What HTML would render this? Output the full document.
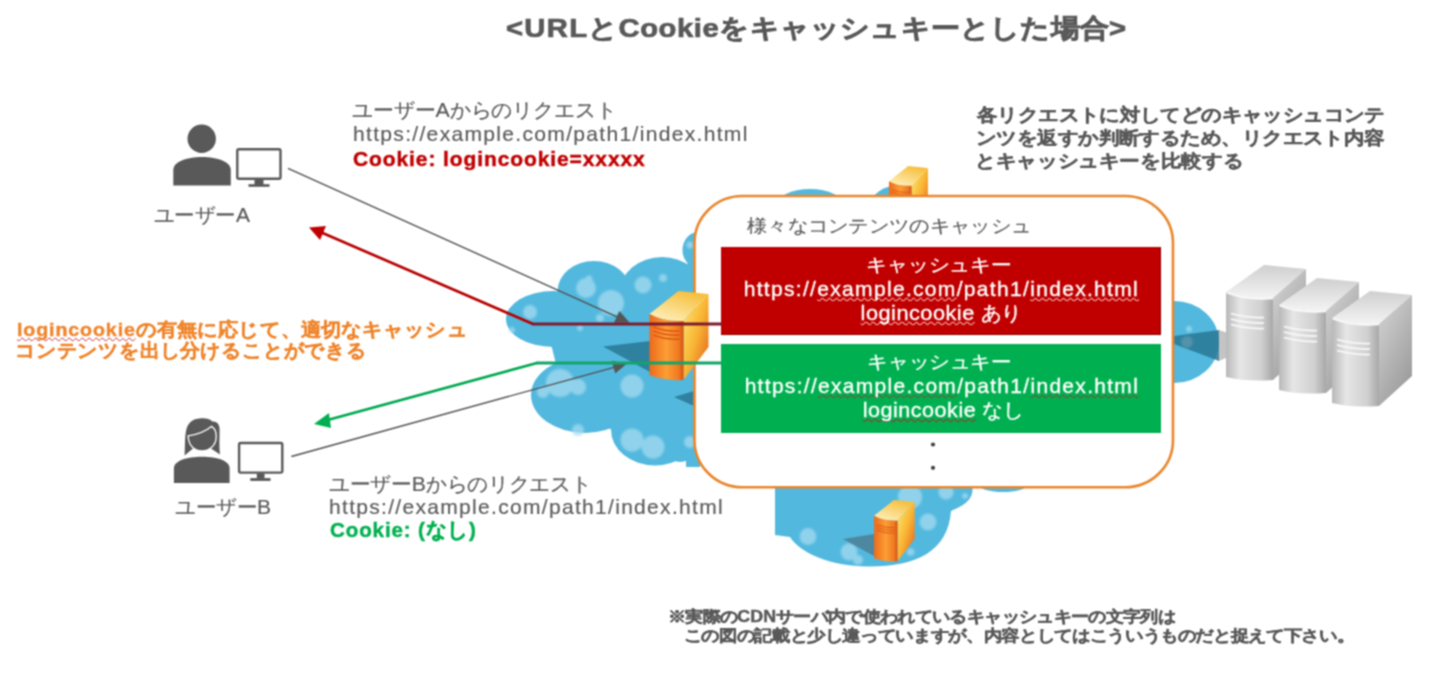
<!DOCTYPE html>
<html lang="ja">
<head>
<meta charset="utf-8">
<style>
html,body{margin:0;padding:0;background:#fff;}
body{width:1440px;height:675px;position:relative;overflow:hidden;font-family:"Liberation Sans",sans-serif;color:#595959;}
.t{position:absolute;white-space:nowrap;line-height:24px;}
svg{position:absolute;left:0;top:0;}
.sq{text-decoration:underline wavy #c8303c;text-decoration-thickness:1px;text-underline-offset:0.5px;text-decoration-skip-ink:none;}.sqr{text-decoration-color:#f5b4b4;}.sqg{text-decoration-color:#a03030;}
</style>
</head>
<body>
<svg width="0" height="0" style="position:absolute;left:0;top:0"><filter id="soft" x="0" y="0" width="100%" height="100%" color-interpolation-filters="sRGB"><feConvolveMatrix order="3" kernelMatrix="1 2 1 2 4 2 1 2 1" divisor="16" edgeMode="duplicate"/></filter></svg>
<div id="wrap" style="position:absolute;left:0;top:0;width:1440px;height:675px;background:#fff;filter:url(#soft);">
<svg width="1440" height="675" viewBox="0 0 1440 675">
<defs>
  <linearGradient id="fr" x1="0" y1="0" x2="1" y2="0">
    <stop offset="0" stop-color="#ee6a1c"/>
    <stop offset="0.5" stop-color="#fb9e34"/>
    <stop offset="0.85" stop-color="#f07a22"/>
    <stop offset="1" stop-color="#d9500f"/>
  </linearGradient>
  <linearGradient id="sd" x1="0" y1="0" x2="1" y2="1">
    <stop offset="0" stop-color="#ffec70"/>
    <stop offset="0.5" stop-color="#f8b434"/>
    <stop offset="1" stop-color="#e2581a"/>
  </linearGradient>
  <linearGradient id="tp" x1="0" y1="1" x2="0.6" y2="0">
    <stop offset="0" stop-color="#fff4c8"/>
    <stop offset="1" stop-color="#f6c040"/>
  </linearGradient>
  <g id="osrv">
    <path d="M0,23 L29,0 L59,3 L34,30 Q14,31 0,23 Z" fill="url(#tp)"/>
    <path d="M34,30 L59,3 L59,56 L34,89 Z" fill="url(#sd)"/>
    <path d="M0,23 Q14,31 34,30 L34,89 Q14,90 0,84 Z" fill="url(#fr)"/>
    <path d="M4,36 Q16,41 30,40 M4,40 Q16,45 30,44 M4,44 Q16,49 30,48" stroke="#d84a10" stroke-width="1.2" fill="none"/>
  </g>
  <linearGradient id="gf" x1="0" y1="0" x2="1" y2="0">
    <stop offset="0" stop-color="#b8b8b8"/>
    <stop offset="0.3" stop-color="#e6e6e6"/>
    <stop offset="0.75" stop-color="#d0d0d0"/>
    <stop offset="1" stop-color="#a8a8a8"/>
  </linearGradient>
  <linearGradient id="gs" x1="0" y1="0" x2="0.6" y2="1">
    <stop offset="0" stop-color="#d6d6d6"/>
    <stop offset="1" stop-color="#9c9c9c"/>
  </linearGradient>
  <linearGradient id="gt" x1="0" y1="1" x2="0" y2="0">
    <stop offset="0" stop-color="#f4f4f4"/>
    <stop offset="1" stop-color="#cfcfcf"/>
  </linearGradient>
  <g id="gsrv">
    <path d="M0,27 L38,0 L80,4 L47,33 Q20,35 0,27 Z" fill="url(#gt)"/>
    <path d="M47,33 L80,4 L80,85 L47,115 Z" fill="url(#gs)"/>
    <path d="M0,27 Q20,35 47,33 L47,115 Q20,117 0,112 Z" fill="url(#gf)"/>
    <path d="M0.5,27.5 Q20,35.5 47,33.5" stroke="#fbfbfb" stroke-width="1.6" fill="none"/>
    <path d="M5,48.5 Q21,53 38,52.5 M5,54 Q21,58.5 38,58 M5,59.5 Q21,64 38,63.5" stroke="#fafafa" stroke-width="1.7" fill="none"/>
  </g>
</defs>

<!-- cloud -->
<filter id="bl" x="-20%" y="-20%" width="140%" height="140%"><feGaussianBlur stdDeviation="0.9"/></filter>
<g fill="#52b8de">
  <ellipse cx="553" cy="319" rx="47" ry="28"/>
  <ellipse cx="594" cy="291" rx="36.4" ry="30"/>
  <ellipse cx="662" cy="292" rx="42" ry="35"/>
  <ellipse cx="697" cy="250" rx="14.5" ry="17.5"/>
  <ellipse cx="585" cy="395" rx="54" ry="38"/>
  <ellipse cx="655" cy="430" rx="44" ry="35.5"/>
  <ellipse cx="680" cy="440" rx="20" ry="22"/>
  <rect x="686" y="450" width="14" height="17"/>
  <polygon points="548,332 590,300 650,290 690,262 700,262 700,440 640,440 600,425 560,380"/>
  <ellipse cx="810" cy="206" rx="34" ry="17"/>
  <ellipse cx="901" cy="205" rx="30" ry="20"/>
  <path d="M775,480 L775,535 L790,537 C800,553 830,566 868,566.5 C915,567 948,552 951,511 C960,507 972,502 972.5,490 L972.5,480 Z"/>
  <ellipse cx="1003" cy="485" rx="24" ry="7"/>
  <ellipse cx="1174" cy="342" rx="45" ry="41"/>
</g>
<!-- bubbles -->
<g fill="#a8dcf1" opacity="0.72" filter="url(#bl)">
  <circle cx="586" cy="288" r="10"/>
  <circle cx="589" cy="279" r="3.5"/>
  <circle cx="611" cy="303" r="13"/>
  <circle cx="600" cy="318" r="4"/>
  <circle cx="643" cy="285" r="8.5"/>
  <circle cx="663" cy="278" r="4"/>
  <circle cx="530" cy="312" r="7"/>
  <circle cx="580" cy="328" r="3"/>
  <circle cx="512" cy="330" r="3"/>
  <circle cx="560" cy="383" r="14"/>
  <circle cx="578" cy="387" r="8"/>
  <circle cx="543" cy="392" r="6"/>
  <circle cx="632" cy="386" r="11.5"/>
  <circle cx="578" cy="430" r="6"/>
  <circle cx="632" cy="440" r="11.5"/>
  <circle cx="653" cy="447" r="11.5"/>
  <circle cx="690" cy="442" r="6"/>
  <circle cx="910" cy="497" r="12"/>
  <circle cx="946" cy="492" r="7.6"/>
  <circle cx="928" cy="522" r="8.4"/>
  <circle cx="808" cy="536.5" r="8.4"/>
  <circle cx="849" cy="552" r="8.4"/>
  <circle cx="858" cy="560" r="5"/>
  <circle cx="910.6" cy="552" r="3.8"/>
  <circle cx="1189" cy="329" r="3"/>
  <circle cx="690" cy="245" r="3.5"/>
  <circle cx="965" cy="496" r="3"/>
</g>
<!-- shadows -->
<g fill="#2a7896" opacity="0.85">
  <path d="M603,346.5 L650,341 L650,372 Z"/>
  <path d="M674,397 L694,391 L694,406 Z"/>
  <path d="M1174,336 L1219,330 L1219,361 L1174,344 Z"/>
</g>
<path d="M843,539 L874,534 L874,556 Z" fill="#4d7f95" opacity="0.85"/>
<circle cx="1187" cy="342" r="6" fill="#6a9fb3" opacity="0.6" filter="url(#bl)"/>
<path d="M1219,330 L1228,333 L1228,357 L1219,361 Z" fill="#c4c4c4"/>

<!-- orange servers -->
<use href="#osrv" transform="translate(889,166) scale(0.66)"/>

<!-- box -->
<rect x="694.5" y="196" width="478.5" height="291.3" rx="48" ry="47" fill="#fff" stroke="#e9862c" stroke-width="2.6"/>
<rect x="721" y="247" width="440" height="88" fill="#c00000"/>
<path d="M721,334.5 L1160.5,334.5 L1160.5,247" fill="none" stroke="#8c0000" stroke-width="1"/>
<rect x="721" y="344" width="440" height="89" fill="#00b050"/>

<use href="#osrv" transform="translate(649.5,291)"/>
<use href="#osrv" transform="translate(874,500) scale(0.69)"/>

<!-- gray servers -->
<use href="#gsrv" transform="translate(1226,265)"/>
<use href="#gsrv" transform="translate(1279,278)"/>
<use href="#gsrv" transform="translate(1332,291)"/>

<!-- lines -->
<g fill="none">
  <line x1="288" y1="168.3" x2="617" y2="316.8" stroke="#505050" stroke-width="1.4"/>
  <line x1="291.4" y1="456.5" x2="614" y2="367.3" stroke="#505050" stroke-width="1.4"/>
</g>
<path d="M629.5,322.5 L614,322.7 L619.4,310.9 Z" fill="#555"/>
<path d="M627,363.5 L611.8,361.1 L615.2,373.5 Z" fill="#555"/>
<g fill="none" stroke-linejoin="round">
  <line x1="318" y1="231" x2="533" y2="324" stroke="#b80000" stroke-width="2.7"/>
  <line x1="532" y1="324" x2="722" y2="324" stroke="#7e1a2c" stroke-width="3"/>
  <line x1="324" y1="421" x2="537" y2="363" stroke="#00a850" stroke-width="2.7"/>
  <line x1="536" y1="363" x2="722" y2="363" stroke="#12a468" stroke-width="3"/>
</g>
<path d="M309,227.6 L326,226 L320,240 Z" fill="#c00000"/>
<path d="M314,424 L329,413 L331,428 Z" fill="#00b050"/>

<!-- user A -->
<g fill="#595959">
  <circle cx="201.7" cy="138.7" r="14.2"/>
  <path d="M173.3,185.5 L173.3,170 C173.3,162 186,157 202,157 C218,157 230.8,162 230.8,170 L230.8,185.5 Z"/>
  <rect x="237.3" y="149.2" width="43.2" height="29.6" rx="1.5" fill="none" stroke="#595959" stroke-width="2.4"/>
  <rect x="254.5" y="180" width="9" height="5"/>
  <rect x="248.5" y="184.2" width="21" height="2.6"/>
</g>
<!-- user B -->
<g fill="#595959">
  <path d="M184.6,455.6 C185.5,442 184,428 190,422.5 C194,419 198,418.3 203,418.3 C207,418.3 210,419.5 212.5,421.5 C216.5,421 219.6,424 219.6,429 C219.6,438 219,447 220,454.6 L211,448.5 L193,448.5 Z"/>
  <path d="M188.2,435.8 C188.2,446 195,451 202,451 C209,451 216.2,446 216.2,436.5 C216.2,431 214.5,428 211.4,426.4 Q203,433.5 188.2,435.8 Z" stroke="#fff" stroke-width="1.3"/>
  <path d="M173.9,483 L173.9,468.5 C173.9,461 186,456.8 202,456.8 C218,456.8 229.6,461 229.6,468.5 L229.6,483 Z"/>
  <rect x="239.1" y="443" width="43.2" height="29.6" rx="1.5" fill="none" stroke="#595959" stroke-width="2.4"/>
  <rect x="256.8" y="473.4" width="7.7" height="5"/>
  <rect x="250.3" y="478.1" width="20.2" height="2.8"/>
</g>
<!-- dots -->
<circle cx="933" cy="444.5" r="2.1" fill="#404040"/>
<circle cx="933" cy="467.8" r="2.1" fill="#404040"/>
</svg>
<div class="t" id="title" style="left:506.0px;top:17.3px;font-size:29.4px;font-weight:bold;-webkit-text-stroke:0.8px #595959;color:#595959;transform-origin:0 0;transform:scale(1.0065,0.9);"><span style="font-size:29px;letter-spacing:1.3px">&lt;URL</span>と<span style="font-size:29px;letter-spacing:0.6px">Cookie</span>をキャッシュキーとした場合<span style="font-size:29px;letter-spacing:0px">&gt;</span></div>
<div class="t" id="a1" style="left:351.94px;top:98.2px;font-size:20.3px;-webkit-text-stroke:0.15px #595959;color:#595959;transform-origin:0 0;transform:scale(1.0425,1.0);">ユーザー<span style="font-size:20.5px;letter-spacing:0px">A</span>からのリクエスト</div>
<div class="t" id="a2" style="left:353.0px;top:122.2px;font-size:20px;-webkit-text-stroke:0.15px #595959;color:#595959;transform-origin:0 0;transform:scale(1.0026,1.0);"><span style="font-size:21px;letter-spacing:1.3px">https://example.com/path1/index.html</span></div>
<div class="t" id="a3" style="left:353.0px;top:146.5px;font-size:20px;font-weight:bold;-webkit-text-stroke:0.45px #c00000;color:#c00000;"><span style="font-size:21px;letter-spacing:0.9px">Cookie: logincookie=xxxxx</span></div>
<div class="t" id="la" style="left:154.18px;top:202.95px;font-size:20px;-webkit-text-stroke:0.15px #595959;color:#595959;transform-origin:0 0;transform:scale(1.0247,1.0);">ユーザー<span style="font-size:20.5px;letter-spacing:0px">A</span></div>
<div class="t" id="lb" style="left:174.97px;top:495.2px;font-size:20px;-webkit-text-stroke:0.15px #595959;color:#595959;transform-origin:0 0;transform:scale(1.025,1.0);">ユーザー<span style="font-size:20.5px;letter-spacing:0px">B</span></div>
<div class="t" id="o1" style="left:17.0px;top:318.75px;font-size:20.6px;font-weight:bold;-webkit-text-stroke:0.45px #ef852c;color:#ef852c;transform-origin:0 0;transform:scale(0.9593,0.9);"><span class="sq" style="font-size:20.5px;letter-spacing:0.9px">logincookie</span>の有無に応じて、適切なキャッシュ</div>
<div class="t" id="o2" style="left:15.11px;top:339.55px;font-size:20.6px;font-weight:bold;-webkit-text-stroke:0.45px #ef852c;color:#ef852c;transform-origin:0 0;transform:scale(0.9455,0.9);">コンテンツを出し分けることができる</div>
<div class="t" id="e1" style="left:329.37px;top:471.65px;font-size:20.3px;-webkit-text-stroke:0.15px #595959;color:#595959;transform-origin:0 0;transform:scale(1.0351,1.0);">ユーザー<span style="font-size:20.5px;letter-spacing:0px">B</span>からのリクエスト</div>
<div class="t" id="e2" style="left:329.4px;top:494.8px;font-size:20px;-webkit-text-stroke:0.15px #595959;color:#595959;transform-origin:0 0;transform:scale(1.0008,1.0);"><span style="font-size:21px;letter-spacing:1.3px">https://example.com/path1/index.html</span></div>
<div class="t" id="e3" style="left:330.4px;top:518.2px;font-size:20.5px;font-weight:bold;-webkit-text-stroke:0.45px #00b050;color:#00b050;transform-origin:0 0;transform:scale(0.9785,1.0);"><span style="font-size:21px;letter-spacing:0.9px">Cookie: (</span>なし<span style="font-size:21px;letter-spacing:0px">)</span></div>
<div class="t" id="f1" style="left:976.61px;top:103.6px;font-size:20.4px;font-weight:bold;-webkit-text-stroke:0.45px #595959;color:#595959;transform-origin:0 0;transform:scale(1.0193,0.9);">各リクエストに対してどのキャッシュコンテ</div>
<div class="t" id="f2" style="left:975.58px;top:126.75px;font-size:20.4px;font-weight:bold;-webkit-text-stroke:0.45px #595959;color:#595959;transform-origin:0 0;transform:scale(1.0218,0.9);">ンツを返すか判断するため、リクエスト内容</div>
<div class="t" id="f3" style="left:974.55px;top:150.15px;font-size:20.4px;font-weight:bold;-webkit-text-stroke:0.45px #595959;color:#595959;transform-origin:0 0;transform:scale(1.0316,0.9);">とキャッシュキーを比較する</div>
<div class="t" id="bt" style="left:746.99px;top:214.7px;font-size:20.1px;-webkit-text-stroke:0.15px #595959;color:#595959;transform-origin:0 0;transform:scale(1.0147,0.9);">様々なコンテンツのキャッシュ</div>
<div class="t" id="r1" style="left:710.95px;top:254.35px;font-size:20.3px;-webkit-text-stroke:0.35px #fff;color:#fff;width:440px;text-align:center;transform-origin:0 0;transform:scale(1.0365,0.9);">キャッシュキー</div>
<div class="t" id="r2" style="left:720.66px;top:276.75px;font-size:20.3px;-webkit-text-stroke:0.35px #fff;color:#fff;width:440px;text-align:center;transform-origin:0 0;transform:scale(1.0018,1.0);"><span style="font-size:21px;letter-spacing:1.3px">https://</span><span class="sq sqr" style="font-size:21px;letter-spacing:1.3px">example.com</span><span style="font-size:21px;letter-spacing:1.3px">/path1/</span><span class="sq sqr" style="font-size:21px;letter-spacing:1.3px">index.html</span></div>
<div class="t" id="r3" style="left:714.33px;top:300.75px;font-size:20.3px;-webkit-text-stroke:0.35px #fff;color:#fff;width:440px;text-align:center;transform-origin:0 0;transform:scale(1.0329,1.0);"><span class="sq sqr" style="font-size:21px;letter-spacing:0.5px">logincookie</span> あり</div>
<div class="t" id="g1" style="left:712.85px;top:351.0px;font-size:20.3px;-webkit-text-stroke:0.35px #fff;color:#fff;width:440px;text-align:center;transform-origin:0 0;transform:scale(1.0299,0.9);">キャッシュキー</div>
<div class="t" id="g2" style="left:721.61px;top:373.85px;font-size:20.3px;-webkit-text-stroke:0.35px #fff;color:#fff;width:440px;text-align:center;transform-origin:0 0;transform:scale(0.9995,1.0);"><span style="font-size:21px;letter-spacing:1.3px">https://</span><span class="sq sqg" style="font-size:21px;letter-spacing:1.3px">example.com</span><span style="font-size:21px;letter-spacing:1.3px">/path1/</span><span class="sq sqg" style="font-size:21px;letter-spacing:1.3px">index.html</span></div>
<div class="t" id="g3" style="left:716.69px;top:398.45px;font-size:20.3px;-webkit-text-stroke:0.35px #fff;color:#fff;width:440px;text-align:center;transform-origin:0 0;transform:scale(1.0268,1.0);"><span class="sq sqg" style="font-size:21px;letter-spacing:0.5px">logincookie</span> なし</div>
<div class="t" id="n1" style="left:667.98px;top:605.7px;font-size:17.3px;font-weight:bold;-webkit-text-stroke:0.45px #595959;color:#595959;transform-origin:0 0;transform:scale(1.0202,0.9);">※実際の<span style="font-size:17.5px;letter-spacing:0px">CDN</span>サーバ内で使われているキャッシュキーの文字列は</div>
<div class="t" id="n2" style="left:666.11px;top:625.35px;font-size:17.3px;font-weight:bold;-webkit-text-stroke:0.45px #595959;color:#595959;transform-origin:0 0;transform:scale(1.0382,0.9);">　この図の記載と少し違っていますが、内容としてはこういうものだと捉えて下さい。</div>
</div>
</body>
</html>
